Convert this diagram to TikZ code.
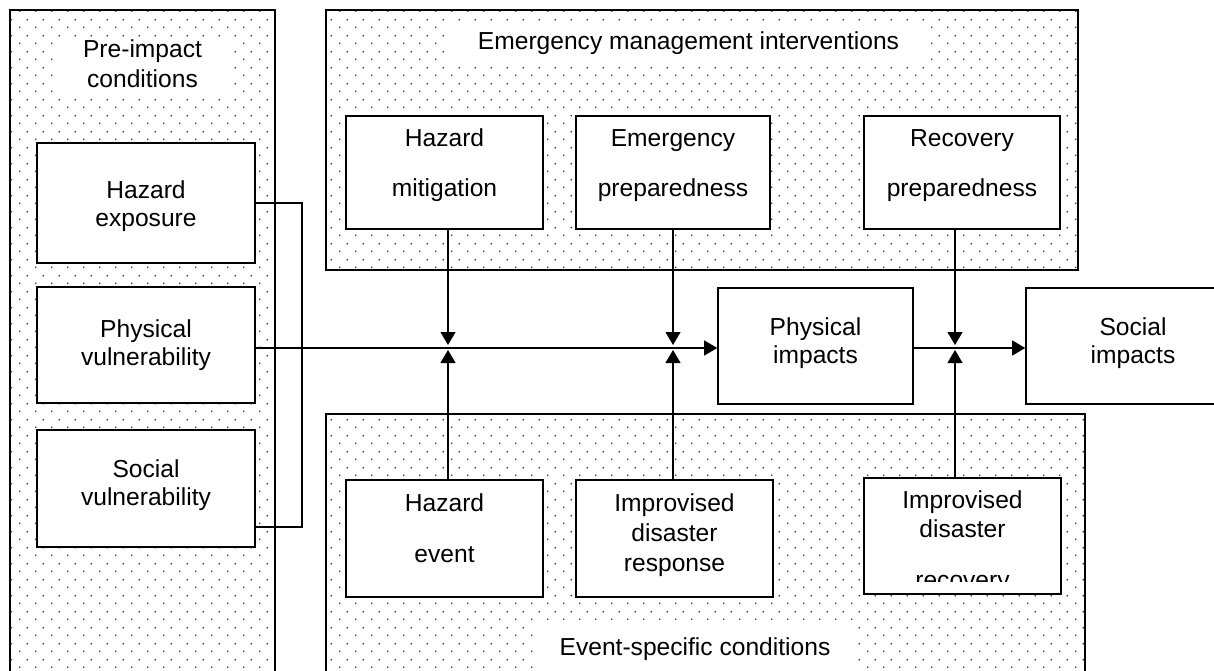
\documentclass[tikz,border=0pt]{standalone}
\usepackage{fontspec}
\setmainfont{Liberation Sans}
\usetikzlibrary{arrows.meta,positioning,patterns}

% sparse dot fill of the three condition panels
\pgfdeclarepatternformonly{stipple}{\pgfpointorigin}{\pgfpoint{16pt}{16pt}}{\pgfpoint{16pt}{16pt}}{%
    \pgfpathcircle{\pgfpoint{4pt}{4pt}}{0.95pt}%
    \pgfpathcircle{\pgfpoint{12pt}{12pt}}{0.95pt}%
    \pgfusepath{fill}}

\tikzset{
    every picture/.style={line width=1.2pt},
    panel/.style={draw, line width=1.6pt, pattern=stipple, pattern color=black!80},
    box/.style={draw, fill=white, line width=1.6pt, inner sep=0pt},
    txt/.style={font=\fontsize{24.6}{30}\selectfont, align=center, inner sep=0pt},
    panellabel/.style={txt, fill=white},
}

\begin{document}
\begin{tikzpicture}[x=1pt, y=-1pt, >={Triangle[length=13pt,width=15pt]}]

    \useasboundingbox (0,0) rectangle (1214,671);
    \clip (0,0) rectangle (1214,671);

    % --- panels ---
    \draw[panel] (10,10) rectangle (275,700);
    \draw[panel] (326,10) rectangle (1078,270);
    \draw[panel] (326,414) rectangle (1085,700);

    \node[panellabel, minimum width=175pt, minimum height=60pt] (pre) at (142.5,67)
        {\strut Pre-impact\\\strut conditions};
    \node[panellabel, minimum width=477pt, minimum height=40pt] (emi) at (688.5,44)
        {\strut Emergency management interventions};
    \node[panellabel, minimum width=320pt, minimum height=58pt] (esc) at (695,649)
        {\strut Event-specific conditions};

    % --- pre-impact conditions ---
    \node[box, minimum width=218pt, minimum height=120pt] (he) at (146,203) {};
    \node[box, minimum width=218pt, minimum height=116pt] (pv) at (146,345) {};
    \node[box, minimum width=218pt, minimum height=117pt] (sv) at (146,488.5) {};
    \node[txt, below=35pt of he.north] (he-t) {\strut Hazard\\[-2pt]exposure};
    \node[txt, below=30pt of pv.north] (pv-t) {\strut Physical\\[-2pt]vulnerability};
    \node[txt, below=27pt of sv.north] (sv-t) {\strut Social\\[-2pt]vulnerability};

    % --- emergency management interventions ---
    \node[box, minimum width=197pt, minimum height=113pt] (hm) at (444.5,172.5) {};
    \node[box, minimum width=194pt, minimum height=113pt] (ep) at (673,172.5) {};
    \node[box, minimum width=196pt, minimum height=113pt] (rp) at (962,172.5) {};
    \node[txt, below=10pt of hm.north] (hm-t) {\strut Hazard\\[20pt]mitigation};
    \node[txt, below=10pt of ep.north] (ep-t) {\strut Emergency\\[20pt]preparedness};
    \node[txt, below=10pt of rp.north] (rp-t) {\strut Recovery\\[20pt]preparedness};

    % --- impacts ---
    \node[box, minimum width=195pt, minimum height=116pt] (pi) at (815.5,346) {};
    \node[box, minimum width=214pt, minimum height=116pt] (si) at (1133,346) {};
    \node[txt, below=27pt of pi.north] (pi-t) {\strut Physical\\[-2pt]impacts};
    \node[txt, below=27pt of si.north] (si-t) {\strut Social\\[-2pt]impacts};

    % --- event-specific conditions ---
    \node[box, minimum width=197pt, minimum height=117pt] (hev) at (444.5,538.5) {};
    \node[box, minimum width=197pt, minimum height=117pt] (idr) at (674.5,538.5) {};
    \node[box, minimum width=197pt, minimum height=116pt] (idc) at (962.5,536) {};
    \node[txt, below=11pt of hev.north] (hev-t) {\strut Hazard\\[21pt]event};
    \node[txt, below=11pt of idr.north] (idr-t) {\strut Improvised\\disaster\\response};
    \begin{scope}
        % last line is cut off by the box
        \clip (idc.north west) rectangle ([yshift=13pt]idc.south east);
        \node[txt, below=10pt of idc.north] (idc-t) {\strut Improvised\\[-1pt]disaster\\[21pt]recovery};
    \end{scope}

    % --- connectors ---
    \coordinate (j1) at (448,348);
    \coordinate (j2) at (673,348);
    \coordinate (j3) at (955,348);
    \coordinate (brk) at (302,527);

    \draw (he.east) -| (brk) -- (brk -| sv.east);
    \draw[->] (pv.east |- j1) -- (pi.west |- j1);
    \draw[->] (pi.east |- j3) -- (si.west |- j3);

    \foreach \upbox/\lowbox/\jn in {hm/hev/j1, ep/idr/j2, rp/idc/j3} {
        \draw[->] (\upbox.south -| \jn) -- ([yshift=3pt]\jn);
        \draw[->] (\lowbox.north -| \jn) -- ([yshift=-2pt]\jn);
    }

\end{tikzpicture}
\end{document}
